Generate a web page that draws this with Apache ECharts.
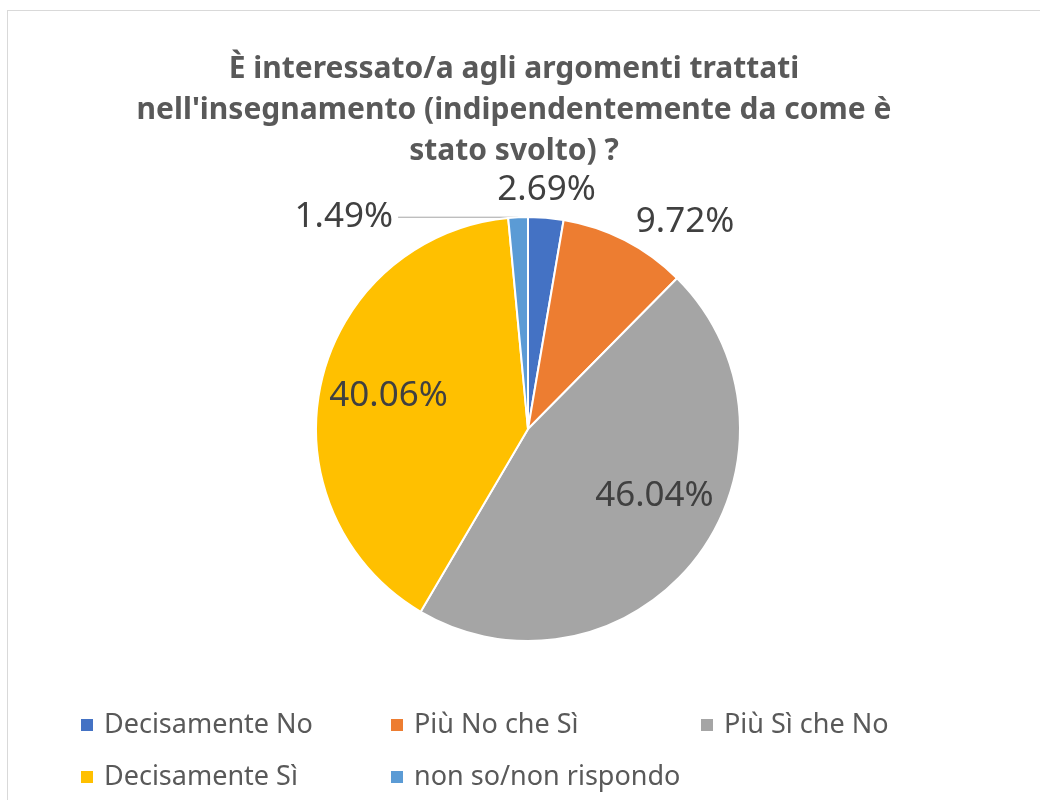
<!DOCTYPE html>
<html>
<head>
<meta charset="utf-8">
<title>Interesse argomenti</title>
<script src="https://cdn.jsdelivr.net/npm/echarts@6/dist/echarts.min.js"></script>
<style>
  html, body { margin: 0; padding: 0; background: #fff; }
  #frame { position: absolute; left: 7px; top: 10px; width: 1100px; height: 900px; border: 1px solid #d9d9d9; }
  #main { position: absolute; left: 0; top: 0; width: 1040px; height: 800px; }
</style>
</head>
<body>
<div id="frame"></div>
<div id="main"></div>
<script>
var categories = ['Decisamente No', 'Più No che Sì', 'Più Sì che No', 'Decisamente Sì', 'non so/non rispondo'];
var percentages = [2.69, 9.72, 46.04, 40.06, 1.49];
var colors = ['#4472C4', '#ED7D31', '#A5A5A5', '#FFC000', '#5B9BD5'];
var titleText = "È interessato/a agli argomenti trattati\nnell'insegnamento (indipendentemente da come è\nstato svolto) ?";

// come sono messe le etichette (dentro / fuori) e piccoli spostamenti
var insideLabels = [2, 3];
var labelShift = { 0: [-54, -24], 1: [6, -18], 2: [40, 1], 3: [-33, -9] };

var pieData = categories.map(function (name, i) {
  var item = { name: name, value: percentages[i], itemStyle: { color: colors[i] } };
  if (insideLabels.indexOf(i) >= 0) {
    item.label = { position: 'inside' };
  }
  if (i === 0) item.labelLine = { length: 4, length2: 0 };
  if (i === 4) {
    item.labelLine = { show: true, length: 0, length2: 120 };
    item.label = { padding: [0, 0, 18, 0] };
  }
  return item;
});

var myChart = echarts.init(document.getElementById('main'));
var option = {
  backgroundColor: 'transparent',
  animation: false,
  title: {
    text: titleText,
    left: 514,
    top: 49,
    padding: 0,
    textAlign: 'center',
    textStyle: {
      fontFamily: 'Noto Sans',
      fontWeight: 'bold',
      fontSize: 30,
      lineHeight: 41,
      color: '#595959'
    }
  },
  legend: {
    left: 79,
    top: 710,
    width: 960,
    padding: 0,
    itemGap: 22,
    itemWidth: 14,
    itemHeight: 14,
    icon: 'rect',
    data: categories,
    textStyle: {
      fontFamily: 'Noto Sans',
      fontSize: 27,
      color: '#595959',
      lineHeight: 30,
      width: 263,
      padding: [0, 0, 0, 5]
    }
  },
  series: [
    {
      type: 'pie',
      radius: 212,
      center: [528, 429],
      startAngle: 90,
      clockwise: true,
      avoidLabelOverlap: false,
      emphasis: { disabled: true },
      itemStyle: { borderColor: '#fff', borderWidth: 2 },
      label: {
        show: true,
        position: 'outside',
        fontFamily: 'Noto Sans',
        fontSize: 35,
        color: '#404040',
        formatter: function (p) { return p.value.toFixed(2) + '%'; }
      },
      labelLine: {
        show: false,
        length: 0,
        length2: 0,
        lineStyle: { color: '#A6A6A6', width: 1 }
      },
      labelLayout: function (params) {
        var s = labelShift[params.dataIndex];
        if (!s) return {};
        return { dx: s[0], dy: s[1] };
      },
      data: pieData
    }
  ]
};
myChart.setOption(option);
</script>
</body>
</html>
